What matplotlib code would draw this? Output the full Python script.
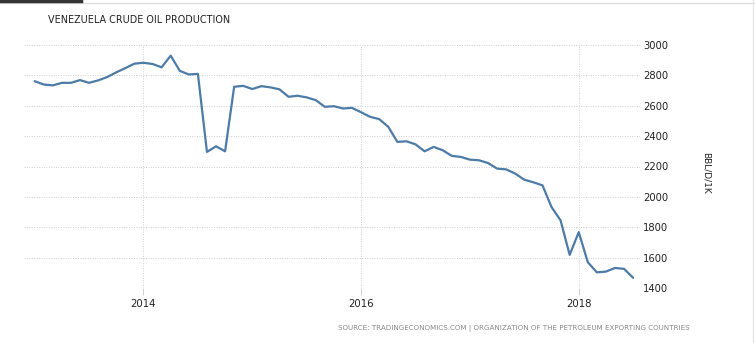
import numpy as np
import matplotlib as mpl
mpl.use('Agg')
import matplotlib.pyplot as plt
from matplotlib.lines import Line2D

# monthly output, Jan 2013 .. Jul 2018 (thousand barrels per day)
start_year = 2013
production = [
	2762, 2740, 2734, 2751, 2751, 2769, 2751, 2767, 2789, 2820, 2848, 2877,  # 2013
	2883, 2875, 2853, 2930, 2830, 2806, 2810, 2296, 2333, 2300, 2725, 2731,  # 2014
	2710, 2729, 2721, 2708, 2659, 2666, 2655, 2637, 2593, 2597, 2582, 2586,  # 2015
	2557, 2527, 2512, 2461, 2362, 2366, 2346, 2300, 2329, 2307, 2270, 2263,  # 2016
	2245, 2241, 2223, 2186, 2181, 2153, 2113, 2096, 2076, 1933, 1845, 1618,  # 2017
	1768, 1570, 1503, 1508, 1532, 1526, 1467,                                # 2018
]
year_ticks = [2014, 2016, 2018]
y_ticks = [1400, 1600, 1800, 2000, 2200, 2400, 2600, 2800, 3000]

title = 'VENEZUELA CRUDE OIL PRODUCTION'
unit = 'BBL/D/1K'
source = 'SOURCE: TRADINGECONOMICS.COM | ORGANIZATION OF THE PETROLEUM EXPORTING COUNTRIES'

x = start_year + np.arange(len(production)) / 12.0

W, H = 755, 343
fig = plt.figure(figsize=(W/100, H/100), dpi=100)
ax = fig.add_axes([24/W, 55/H, (640-24)/W, (288-45)/H])

ax.plot(x, production, color='#4d7ba8', linewidth=1.6, solid_joinstyle='round', solid_capstyle='round', zorder=3)

ax.set_xlim(2012.902, 2018.563)
ax.set_ylim(1400, 3000)

ax.set_xticks(year_ticks)
ax.set_xticklabels([str(t) for t in year_ticks])
ax.set_yticks(y_ticks)
ax.yaxis.tick_right()
ax.grid(True, color='#d0d0d0', linestyle=(0, (1, 1.5)), linewidth=0.7)
ax.tick_params(axis='x', length=5, width=0.7, color='#d0d0d0', labelsize=7.3, labelcolor='#222222', pad=3)
ax.tick_params(axis='y', length=0, labelsize=7.2, labelcolor='#222222', pad=2)
for s in ax.spines.values():
	s.set_visible(False)

fig.text(48/W, 1 - 20/H, title, fontsize=6.9, color='#222222', va='center', ha='left')
fig.text(706/W, 1 - 173/H, unit, fontsize=6.5, color='#222222', rotation=-90, va='center', ha='center')
fig.text(690/W, 1 - 328/H, source, fontsize=5.1, color='#888888', va='center', ha='right')

# frame strips along the top and right edges
fig.add_artist(Line2D([0, 1], [1 - 2.5/H, 1 - 2.5/H], color='#dddddd', linewidth=1))
fig.add_artist(Line2D([0, 81/W], [1 - 1/H, 1 - 1/H], color='#333333', linewidth=2.5))
fig.add_artist(Line2D([753/W, 753/W], [0, 1], color='#e6e6e6', linewidth=1))

fig.savefig('out.png', dpi=100)
